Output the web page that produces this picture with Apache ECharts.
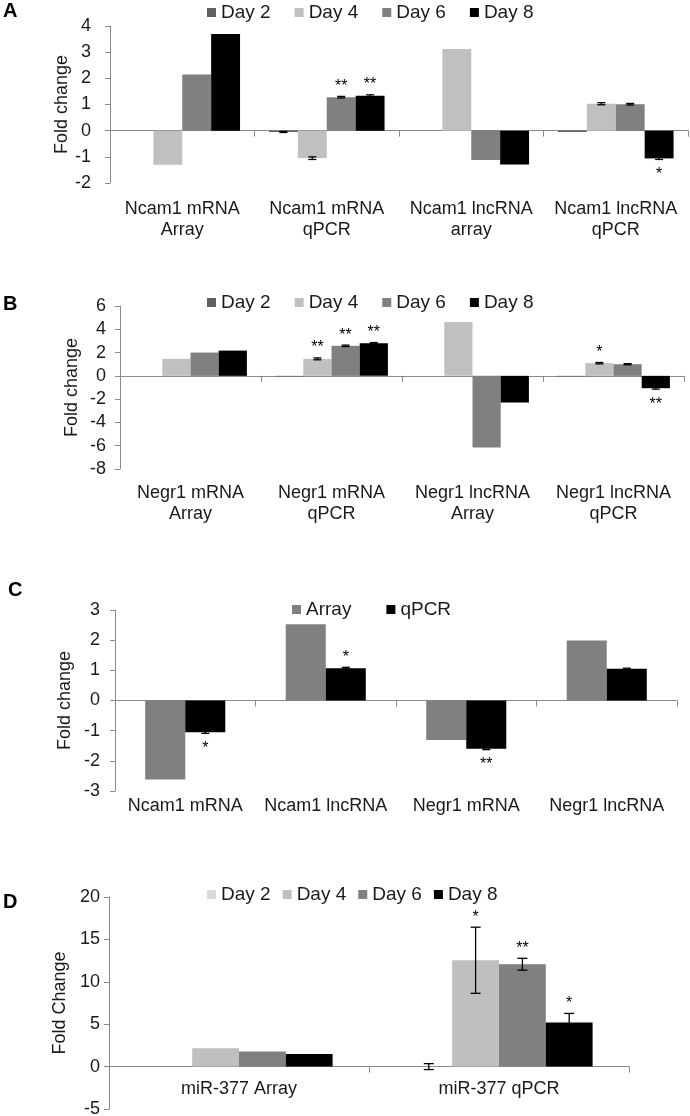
<!DOCTYPE html>
<html><head><meta charset="utf-8">
<script src="https://cdn.jsdelivr.net/npm/echarts@6/dist/echarts.min.js"></script>
<style>html,body{margin:0;padding:0;background:#fff}#c{width:690px;height:1116px}</style>
</head><body><div id="c"></div>
<script>
// ---------- Panel A ----------
const A_categories = ['Ncam1 mRNA\nArray', 'Ncam1 mRNA\nqPCR', 'Ncam1 lncRNA\narray', 'Ncam1 lncRNA\nqPCR'];
const A_series = ['Day 2', 'Day 4', 'Day 6', 'Day 8'];
const A_day2 = [null, -0.05, null, -0.05];
const A_day4 = [-1.3, -1.05, 3.12, 1.03];
const A_day6 = [2.15, 1.28, -1.12, 1.01];
const A_day8 = [3.69, 1.33, -1.29, -1.06];
const A_err2 = [null, 0.02, null, 0];
const A_err4 = [null, 0.05, null, 0.04];
const A_err6 = [null, 0.03, null, 0.03];
const A_err8 = [null, 0.04, null, 0.04];
const A_sig2 = ['', '', '', ''];
const A_sig4 = ['', '', '', ''];
const A_sig6 = ['', '**', '', ''];
const A_sig8 = ['', '**', '', '*'];
const A_yTicks = { min: -2, max: 4, interval: 1 };

// ---------- Panel B ----------
const B_categories = ['Negr1 mRNA\nArray', 'Negr1 mRNA\nqPCR', 'Negr1 lncRNA\nArray', 'Negr1 lncRNA\nqPCR'];
const B_series = ['Day 2', 'Day 4', 'Day 6', 'Day 8'];
const B_day2 = [null, -0.05, null, -0.05];
const B_day4 = [1.46, 1.46, 4.63, 1.09];
const B_day6 = [2.0, 2.58, -6.15, 1.0];
const B_day8 = [2.17, 2.8, -2.29, -1.06];
const B_err2 = [null, 0, null, 0];
const B_err4 = [null, 0.08, null, 0.06];
const B_err6 = [null, 0.06, null, 0.05];
const B_err8 = [null, 0.06, null, 0.08];
const B_sig2 = ['', '', '', ''];
const B_sig4 = ['', '**', '', '*'];
const B_sig6 = ['', '**', '', ''];
const B_sig8 = ['', '**', '', '**'];
const B_yTicks = { min: -8, max: 6, interval: 2 };

// ---------- Panel C ----------
const C_categories = ['Ncam1 mRNA', 'Ncam1 lncRNA', 'Negr1 mRNA', 'Negr1 lncRNA'];
const C_series = ['Array', 'qPCR'];
const C_array = [-2.62, 2.53, -1.31, 1.99];
const C_qpcr = [-1.05, 1.07, -1.6, 1.05];
const C_errArray = [null, null, null, null];
const C_errQpcr = [0.04, 0.03, 0.03, 0.02];
const C_sigArray = ['', '', '', ''];
const C_sigQpcr = ['*', '*', '**', ''];
const C_yTicks = { min: -3, max: 3, interval: 1 };

// ---------- Panel D ----------
const D_categories = ['miR-377 Array', 'miR-377 qPCR'];
const D_series = ['Day 2', 'Day 4', 'Day 6', 'Day 8'];
const D_day2 = [null, 0.0];
const D_day4 = [2.16, 12.54];
const D_day6 = [1.77, 12.07];
const D_day8 = [1.49, 5.2];
const D_err2 = [null, 0.35];
const D_err4 = [null, 3.9];
const D_err6 = [null, 0.7];
const D_err8 = [null, 1.07];
const D_sig2 = ['', ''];
const D_sig4 = ['', '*'];
const D_sig6 = ['', '**'];
const D_sig8 = ['', '*'];
const D_yTicks = { min: -5, max: 20, interval: 5 };

// ---------- styling ----------
const FONT = '"Liberation Sans", Arial, sans-serif';
const AXIS_GRAY = '#8a8a8a';
const TXT = '#1a1a1a';
const COLORS_ABC = ['#606060', '#c0c0c0', '#808080', '#000000'];
const COLORS_C = ['#808080', '#000000'];
const COLORS_D = ['#d9d9d9', '#bfbfbf', '#808080', '#000000'];

const panels = [
  { cats: A_categories, names: A_series, vals: [A_day2, A_day4, A_day6, A_day8], errs: [A_err2, A_err4, A_err6, A_err8],
    sigs: [A_sig2, A_sig4, A_sig6, A_sig8], colors: COLORS_ABC, ticks: A_yTicks, yName: 'Fold change',
    grid: { left: 110, top: 26, width: 578, height: 157 }, gap: 0.2, labelMargin: 19, nameGap: 39,
    xLabelMargin: 16, xLabelOffset: 0, cap: 4,
    legend: { left: 207, top: 3, itemGap: 24 } },
  { cats: B_categories, names: B_series, vals: [B_day2, B_day4, B_day6, B_day8], errs: [B_err2, B_err4, B_err6, B_err8],
    sigs: [B_sig2, B_sig4, B_sig6, B_sig8], colors: COLORS_ABC, ticks: B_yTicks, yName: 'Fold change',
    grid: { left: 120, top: 306, width: 564, height: 163 }, gap: 0.2, labelMargin: 14, nameGap: 39,
    xLabelMargin: 14, xLabelOffset: 0, cap: 4,
    legend: { left: 207, top: 293, itemGap: 24 } },
  { cats: C_categories, names: C_series, vals: [C_array, C_qpcr], errs: [C_errArray, C_errQpcr],
    sigs: [C_sigArray, C_sigQpcr], colors: COLORS_C, ticks: C_yTicks, yName: 'Fold change',
    grid: { left: 115, top: 610, width: 562, height: 181 }, gap: 0.43, labelMargin: 15, nameGap: 41,
    xLabelMargin: 5, xLabelOffset: 0, cap: 4,
    legend: { left: 292, top: 600, itemGap: 35 } },
  { cats: D_categories, names: D_series, vals: [D_day2, D_day4, D_day6, D_day8], errs: [D_err2, D_err4, D_err6, D_err8],
    sigs: [D_sig2, D_sig4, D_sig6, D_sig8], colors: COLORS_D, ticks: D_yTicks, yName: 'Fold Change',
    grid: { left: 109, top: 897, width: 520, height: 212 }, gap: 0.28, labelMargin: 9, nameGap: 40,
    xLabelMargin: 12, xLabelOffset: -42, cap: 5,
    legend: { left: 207, top: 885, itemGap: 12 } }
];

const option = {
  animation: false,
  backgroundColor: '#ffffff',
  textStyle: { fontFamily: FONT },
  grid: [], xAxis: [], yAxis: [], series: [], legend: [],
  graphic: []
};

const letters = [['A', 3, 1], ['B', 3, 294], ['C', 8, 580], ['D', 3, 892]];
letters.forEach(([t, x, y]) => option.graphic.push({
  type: 'text', left: x, top: y,
  style: { text: t, fontSize: 20, fontWeight: 'bold', fontFamily: FONT, fill: '#000' }
}));

panels.forEach((p, gi) => {
  option.grid.push(Object.assign({ containLabel: false, outerBoundsMode: 'none' }, p.grid));
  const n = p.vals.length;
  const barAxis = option.xAxis.length;
  option.xAxis.push({
    type: 'category', gridIndex: gi, data: p.cats, position: 'bottom', offset: p.xLabelOffset,
    axisLine: { show: false, onZero: false }, axisTick: { show: false },
    axisLabel: { fontSize: 18, color: TXT, fontFamily: FONT, margin: p.xLabelMargin, lineHeight: 21, interval: 0 }
  });
  option.xAxis.push({
    type: 'category', gridIndex: gi, data: p.cats, position: 'top',
    axisLine: { show: true, onZero: true, lineStyle: { color: AXIS_GRAY, width: 1 } },
    axisTick: { show: true, inside: true, length: 6, lineStyle: { color: AXIS_GRAY } },
    axisLabel: { show: false }
  });
  option.yAxis.push({
    type: 'value', gridIndex: gi, min: p.ticks.min, max: p.ticks.max, interval: p.ticks.interval,
    name: p.yName, nameLocation: 'middle', nameGap: p.nameGap, nameRotate: 90, nameMoveOverlap: false,
    nameTextStyle: { fontSize: 18, color: TXT, fontFamily: FONT },
    axisLine: { show: true, onZero: false, lineStyle: { color: AXIS_GRAY, width: 1 } },
    axisTick: { show: true, length: 5, lineStyle: { color: AXIS_GRAY } },
    splitLine: { show: false },
    axisLabel: { fontSize: 18, color: TXT, fontFamily: FONT, margin: p.labelMargin }
  });
  p.names.forEach((name, si) => {
    option.series.push({
      type: 'bar', name: name, xAxisIndex: barAxis, yAxisIndex: gi,
      data: p.vals[si], barGap: '0%', barCategoryGap: (p.gap * 100) + '%',
      itemStyle: { color: p.colors[si] }, z: 2
    });
  });
  // error bars + significance marks
  const errData = [], sigText = [];
  p.vals.forEach((arr, si) => {
    arr.forEach((v, ci) => {
      const e = p.errs[si][ci];
      const s = p.sigs[si][ci];
      if (v === null) return;
      if ((e !== null && e > 0) || s) {
        errData.push([ci, v, e || 0, si]);
        sigText.push(s);
      }
    });
  });
  const gap = p.gap, cap = p.cap;
  option.series.push({
    type: 'custom', xAxisIndex: barAxis, yAxisIndex: gi, z: 5, silent: true,
    encode: { x: 0, y: 1 },
    data: errData,
    renderItem: function (params, api) {
      const c = api.value(0), v = api.value(1), e = api.value(2), s = api.value(3);
      const band = api.size([1, 0])[0];
      const bw = band * (1 - gap) / n;
      const x = api.coord([c, 0])[0] + (s - (n - 1) / 2) * bw;
      const yHi = api.coord([c, v + e])[1];
      const yLo = api.coord([c, v - e])[1];
      const children = [];
      const ls = { stroke: '#000', lineWidth: 1.3 };
      if (e > 0) {
        children.push({ type: 'line', shape: { x1: x, y1: yHi, x2: x, y2: yLo }, style: ls });
        children.push({ type: 'line', shape: { x1: x - cap, y1: yHi, x2: x + cap, y2: yHi }, style: ls });
        children.push({ type: 'line', shape: { x1: x - cap, y1: yLo, x2: x + cap, y2: yLo }, style: ls });
      }
      const t = sigText[params.dataIndex];
      if (t) {
        const ty = v >= 0 ? yHi - 10 : yLo + 15;
        children.push({ type: 'text', style: { text: t, x: x, y: ty, align: 'center', verticalAlign: 'middle',
          fontSize: 16, fontFamily: FONT, fill: '#000' } });
      }
      return { type: 'group', children: children };
    }
  });
  option.legend.push({
    left: p.legend.left, top: p.legend.top, itemGap: p.legend.itemGap, padding: 0,
    itemWidth: 9, itemHeight: 9, icon: 'rect',
    textStyle: { fontSize: 19, color: TXT, fontFamily: FONT },
    data: p.names.map((nm, i) => ({ name: nm, icon: 'rect', itemStyle: { color: p.colors[i] } }))
  });
});

const chart = echarts.init(document.getElementById('c'), null, { renderer: 'canvas' });
chart.setOption(option);
</script>
</body></html>
